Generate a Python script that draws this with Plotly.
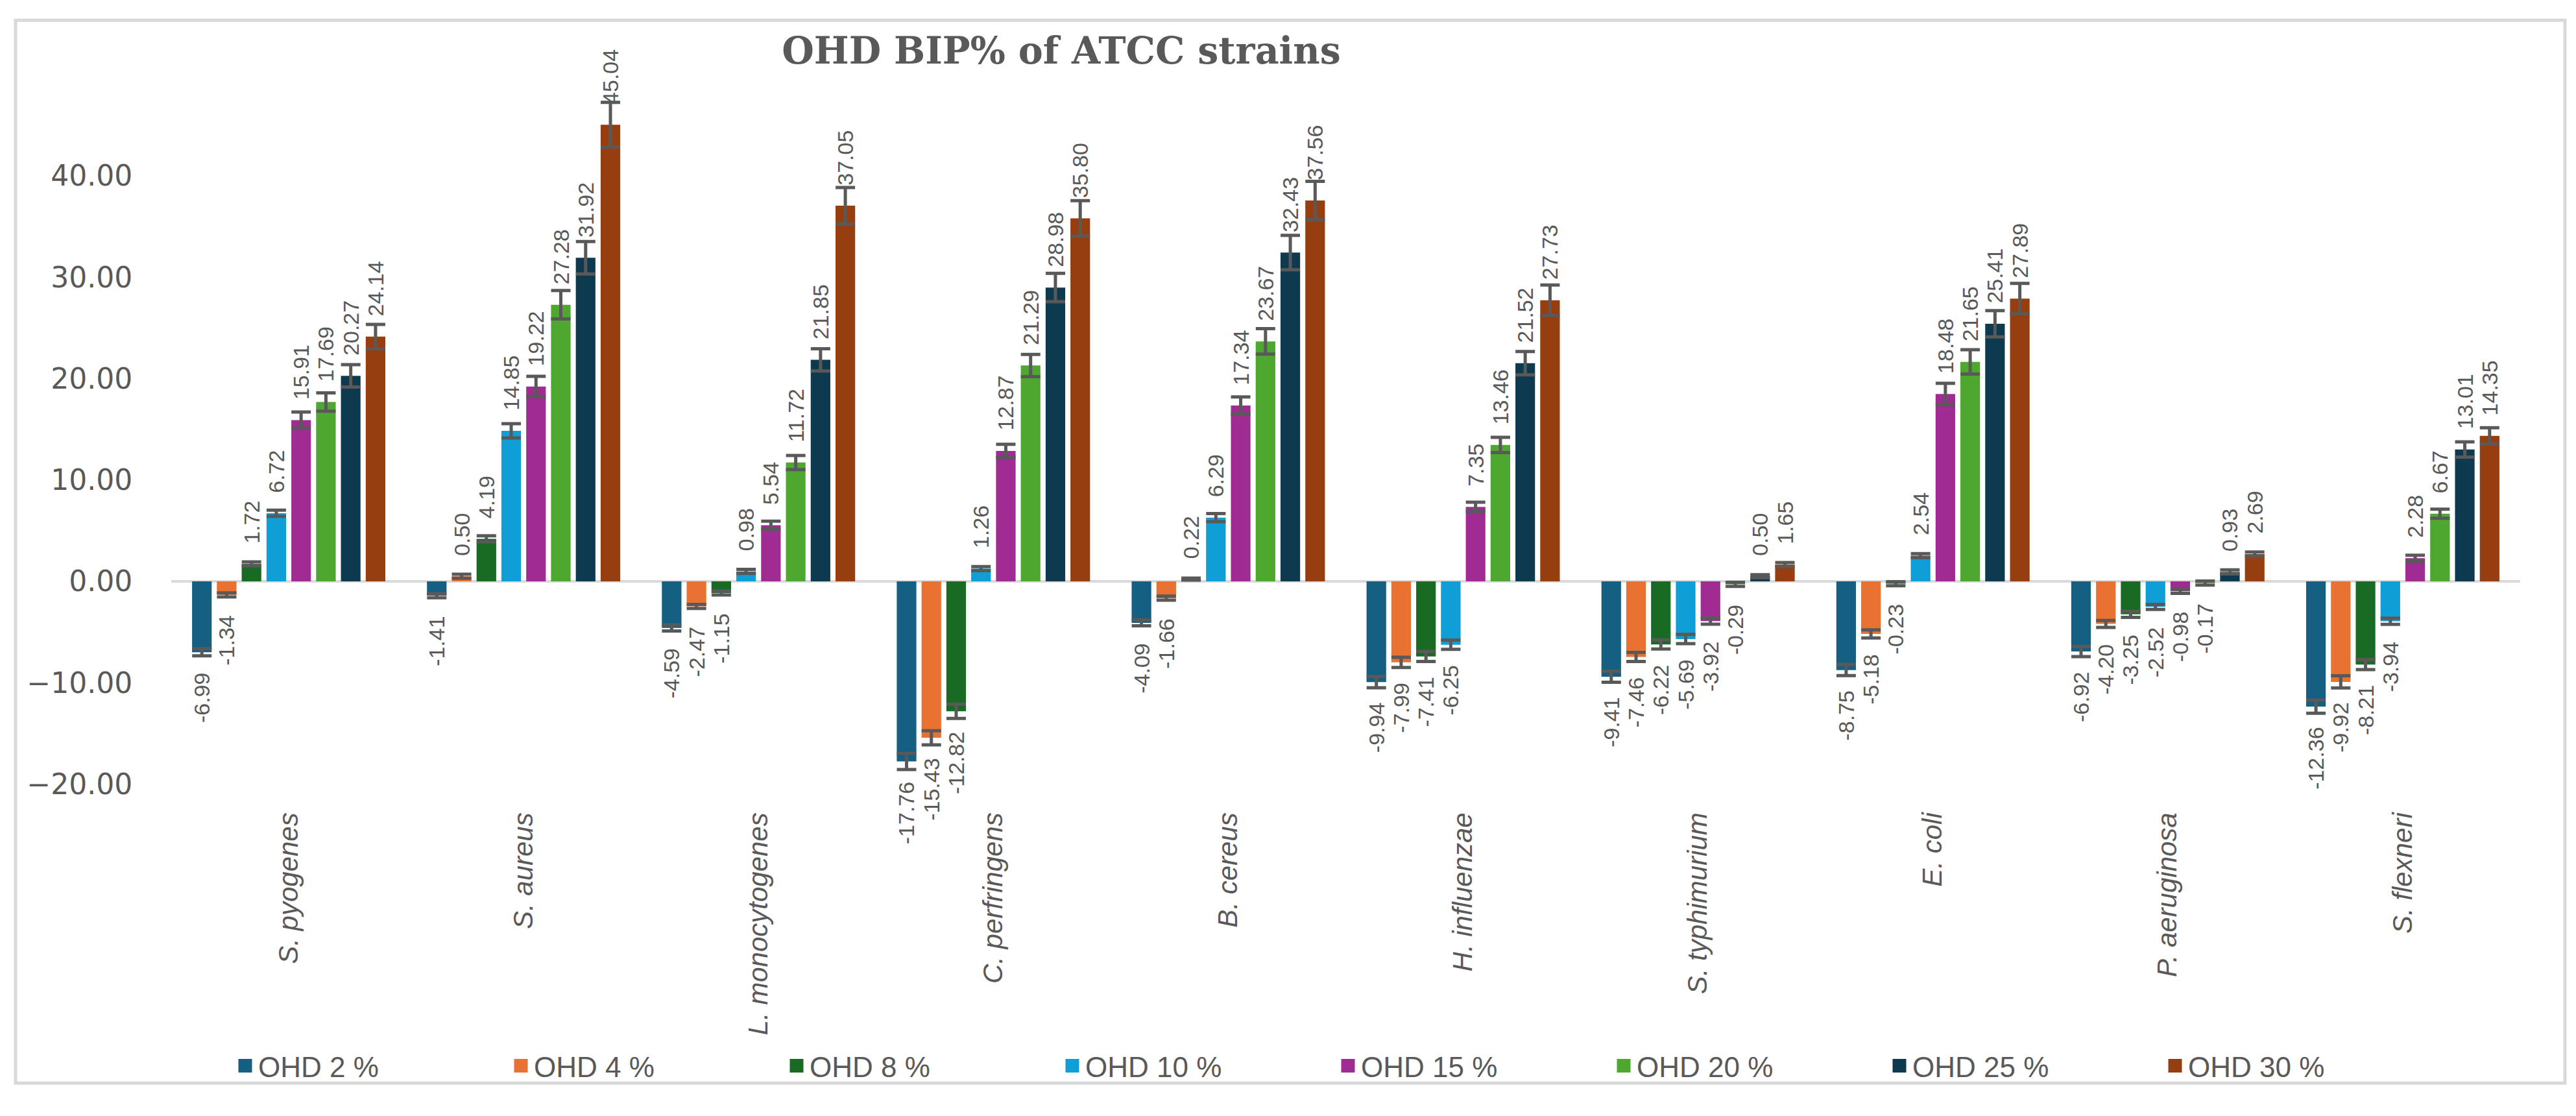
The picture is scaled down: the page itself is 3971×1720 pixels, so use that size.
import plotly.graph_objects as go

categories = ["S. pyogenes", "S. aureus", "L. monocytogenes", "C. perfringens", "B. cereus",
              "H. influenzae", "S. typhimurium", "E. coli", "P. aeruginosa", "S. flexneri"]

series_names = ["OHD 2 %", "OHD 4 %", "OHD 8 %", "OHD 10 %", "OHD 15 %", "OHD 20 %", "OHD 25 %", "OHD 30 %"]

ohd2 = [-6.99, -1.41, -4.59, -17.76, -4.09, -9.94, -9.41, -8.75, -6.92, -12.36]
ohd4 = [-1.34, 0.50, -2.47, -15.43, -1.66, -7.99, -7.46, -5.18, -4.20, -9.92]
ohd8 = [1.72, 4.19, -1.15, -12.82, 0.22, -7.41, -6.22, -0.23, -3.25, -8.21]
ohd10 = [6.72, 14.85, 0.98, 1.26, 6.29, -6.25, -5.69, 2.54, -2.52, -3.94]
ohd15 = [15.91, 19.22, 5.54, 12.87, 17.34, 7.35, -3.92, 18.48, -0.98, 2.28]
ohd20 = [17.69, 27.28, 11.72, 21.29, 23.67, 13.46, -0.29, 21.65, -0.17, 6.67]
ohd25 = [20.27, 31.92, 21.85, 28.98, 32.43, 21.52, 0.50, 25.41, 0.93, 13.01]
ohd30 = [24.14, 45.04, 37.05, 35.80, 37.56, 27.73, 1.65, 27.89, 2.69, 14.35]

err2 = [0.35, 0.2, 0.3, 0.8, 0.3, 0.55, 0.55, 0.55, 0.5, 0.65]
err4 = [0.2, 0.2, 0.2, 0.7, 0.2, 0.5, 0.45, 0.4, 0.35, 0.6]
err8 = [0.2, 0.3, 0.2, 0.7, 0.1, 0.5, 0.45, 0.2, 0.3, 0.5]
err10 = [0.3, 0.7, 0.2, 0.2, 0.4, 0.45, 0.45, 0.2, 0.25, 0.3]
err15 = [0.8, 1.0, 0.4, 0.65, 0.85, 0.45, 0.3, 1.05, 0.2, 0.3]
err20 = [0.9, 1.4, 0.7, 1.1, 1.25, 0.75, 0.2, 1.2, 0.2, 0.45]
err25 = [1.1, 1.6, 1.1, 1.4, 1.7, 1.15, 0.15, 1.3, 0.2, 0.75]
err30 = [1.2, 2.2, 1.8, 1.75, 1.9, 1.5, 0.2, 1.5, 0.2, 0.8]

y_ticks = [-20, -10, 0, 10, 20, 30, 40]

values = [ohd2, ohd4, ohd8, ohd10, ohd15, ohd20, ohd25, ohd30]
errors = [err2, err4, err8, err10, err15, err20, err25, err30]
colors = ["#156082", "#E97132", "#196B24", "#0F9ED5", "#A02B93", "#4EA72E", "#0E3A4F", "#963E10"]

W, H = 3971, 1720
ML, MR, MT, MB = 256, 94, 138, 498
GRAY = "#595959"
PAD = "\u00a0\u00a0\u00a0"


def label(v):
    s = f"{v:.2f}"
    return PAD + s if v >= 0 else s + PAD


fig = go.Figure()
for name, vals, errs, col in zip(series_names, values, errors, colors):
    fig.add_trace(go.Bar(
        name=name, x=categories, y=vals, showlegend=False, legendgroup=name,
        marker=dict(color=col, line=dict(width=0)),
        error_y=dict(type="data", array=errs, color=GRAY, thickness=5, width=15),
        text=[label(v) for v in vals],
        textposition="outside", textangle=-90, constraintext="none",
        textfont=dict(family="Liberation Sans", size=34, color=GRAY),
        cliponaxis=False,
    ))
for name, col in zip(series_names, colors):
    fig.add_trace(go.Scatter(
        name=name, x=[None], y=[None], mode="markers", legendgroup=name, showlegend=True,
        marker=dict(symbol="square", size=16, color=col, line=dict(color=col, width=5)),
    ))

pw = W - ML - MR
ph = H - MT - MB


def px_x(v):
    return (v - ML) / pw


def px_y(v):
    return (H - MB - v) / ph


fig.add_shape(type="rect", xref="paper", yref="paper",
              x0=px_x(16), x1=px_x(3946), y0=px_y(1692), y1=px_y(21),
              line=dict(color="#d9d9d9", width=5), fillcolor="rgba(0,0,0,0)", layer="below")

fig.update_layout(
    width=W, height=H,
    margin=dict(l=ML, r=MR, t=MT, b=MB),
    paper_bgcolor="white", plot_bgcolor="white",
    barmode="group", bargap=0.155, bargroupgap=0.21,
    title=dict(text="OHD BIP% of ATCC strains", xref="container", x=1628 / W, xanchor="center",
               yref="container", y=1 - 70 / H, yanchor="middle",
               font=dict(family="DejaVu Serif", size=57, color=GRAY, weight="bold")),
    showlegend=True,
    legend=dict(orientation="h", xref="container", x=350 / W, xanchor="left",
                yref="container", y=1 - 1635 / H, yanchor="middle",
                bgcolor="rgba(0,0,0,0)", itemclick=False,
                font=dict(family="Liberation Sans", size=44, color=GRAY),
                entrywidth=380, entrywidthmode="pixels", traceorder="normal"),
    xaxis=dict(showgrid=False, showline=False, zeroline=False, tickangle=-90,
               ticks="outside", ticklen=26, tickcolor="rgba(0,0,0,0)",
               tickfont=dict(family="Liberation Sans", size=42, color=GRAY, style="italic")),
    yaxis=dict(range=[-20, 48], tickvals=y_ticks, tickformat=".2f", showgrid=False, showline=False,
               zeroline=True, zerolinecolor="#d9d9d9", zerolinewidth=4,
               ticks="outside", ticklen=50, tickcolor="rgba(0,0,0,0)",
               tickfont=dict(family="DejaVu Sans", size=44, color=GRAY)),
)

fig.write_html("out.html")
